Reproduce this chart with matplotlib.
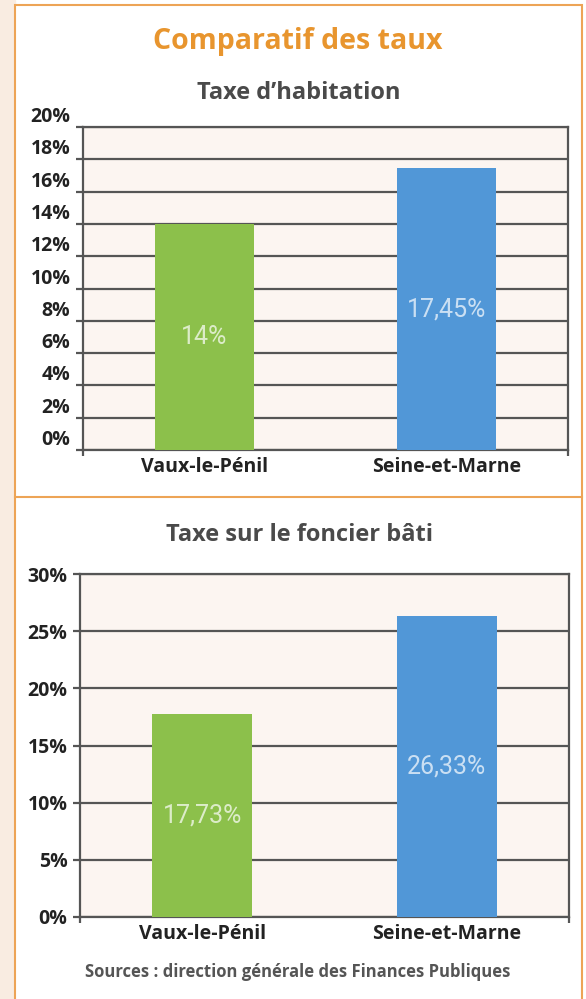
import numpy as np
import matplotlib.pyplot as plt
from matplotlib.patches import Rectangle
from matplotlib.lines import Line2D

# données
communes = ["Vaux-le-Pénil", "Seine-et-Marne"]
taxe_habitation = [14.0, 17.45]
foncier_bati = [17.73, 26.33]
ticks_habitation = list(range(0, 21, 2))
ticks_foncier = list(range(0, 31, 5))

bar_colors = ["#8cc04b", "#5197d7"]
orange = "#eda456"
grid_col = "#555555"

plt.rcParams['font.family'] = ['Open Sans', 'DejaVu Sans']
plt.rcParams['font.weight'] = 'bold'

W, H = 586, 999
fig = plt.figure(figsize=(W / 100, H / 100), dpi=100)


def fx(px):
    return px / W


def fy(py):
    return 1 - py / H


# fond : bande pêche à gauche + cadre orange
fig.patches.append(Rectangle((0, 0), fx(15), 1, transform=fig.transFigure,
                             color="#f9ece1", zorder=-3))
fig.patches.append(Rectangle((fx(15), -0.01), fx(582) - fx(15), fy(5) + 0.01,
                             transform=fig.transFigure, facecolor='white',
                             edgecolor=orange, lw=1.5, zorder=-2))
fig.lines.append(Line2D([fx(15), fx(582)], [fy(497)] * 2,
                        transform=fig.transFigure, color=orange, lw=1.5, zorder=-1))


def draw(left, right, top, bottom, values, ticks, labels_above):
    ax = fig.add_axes([fx(left), fy(bottom), fx(right) - fx(left), fy(top) - fy(bottom)])
    ax.set_facecolor('#fcf5f1')
    x = np.arange(len(communes))
    ax.bar(x, values, width=0.41, color=bar_colors, zorder=3)
    ax.set_xlim(-0.5, 1.5)
    ax.set_ylim(0, ticks[-1])
    ax.set_yticks(ticks)
    ax.set_yticklabels([f"{t}%" for t in ticks])
    ax.set_xticks(x)
    ax.set_xticklabels(communes)
    ax.set_xticks([-0.5, 1.5], minor=True)
    ax.grid(axis='y', color=grid_col, lw=1.6, zorder=1)
    ax.set_axisbelow(True)
    for s in ax.spines.values():
        s.set_color(grid_col)
        s.set_linewidth(1.6)
    ax.tick_params(axis='y', length=5, width=1.6, color=grid_col, pad=4,
                   labelsize=14, labelcolor='#222222')
    ax.tick_params(axis='x', which='major', length=0, pad=5,
                   labelsize=14, labelcolor='#222222')
    ax.tick_params(axis='x', which='minor', length=4, width=1.6, color=grid_col)
    if labels_above:
        for lab in ax.get_yticklabels():
            lab.set_va('bottom')
    for xi, v in zip(x, values):
        txt = f"{v:g}".replace('.', ',') + '%'
        ax.text(xi, v / 2, txt, ha='center', va='center', color='white', alpha=0.7,
                fontsize=18, fontweight='normal',
                family=['Liberation Sans Narrow', 'Roboto', 'DejaVu Sans'], zorder=4)
    return ax


draw(83, 568, 127, 450, taxe_habitation, ticks_habitation, True)
draw(80, 569, 574, 917, foncier_bati, ticks_foncier, False)

fig.text(fx(298), fy(42), "Comparatif des taux", ha='center', va='center',
         color='#e8952e', fontsize=20.5)
fig.text(fx(299), fy(93), "Taxe d’habitation", ha='center', va='center',
         color='#4a4a4a', fontsize=17)
fig.text(fx(299), fy(535), "Taxe sur le foncier bâti", ha='center', va='center',
         color='#4a4a4a', fontsize=17)
fig.text(fx(298), fy(972), "Sources : direction générale des Finances Publiques",
         ha='center', va='center', color='#555555', fontsize=12)

fig.savefig("out.png", dpi=100)
